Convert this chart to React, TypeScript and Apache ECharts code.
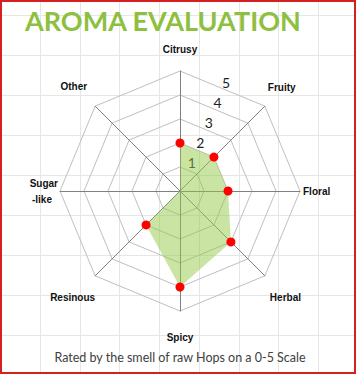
import React, { useEffect, useRef } from 'react';
import * as echarts from 'echarts';

// ---- data ----
const categories = ['Citrusy', 'Fruity', 'Floral', 'Herbal', 'Spicy', 'Resinous', 'Sugar-like', 'Other'];
const scores = [2, 2, 2, 3, 4, 2, 0, 0];
const scaleTicks = [1, 2, 3, 4, 5];
const scaleMax = 5;
const titleText = 'AROMA EVALUATION';
const subtitleText = 'Rated by the smell of raw Hops on a 0-5 Scale';

// ---- layout / style ----
const W = 356;
const H = 374;
const CX = 180;
const CY = 191;
const R = 120;
const FILL = 'rgba(146,200,70,0.7)';

const nameFont = {
  fontFamily: '"Liberation Sans", Arial, sans-serif',
  fontSize: 10,
  fontWeight: 'bold' as const,
  color: '#111111',
  lineHeight: 12,
};

const richNames: Record<string, string> = {
  Citrusy: '{cit|Citrusy}',
  Fruity: '{fru|Fruity}',
  Floral: '{flo|Floral}',
  Herbal: '{her|Herbal}',
  Spicy: '{spi|Spicy}',
  Resinous: '{res|Resinous}',
  'Sugar-like': '{sug|Sugar}\n{sug2|-like}',
  Other: '{oth|Other}',
};

export default function App() {
  const ref = useRef<HTMLDivElement>(null);

  useEffect(() => {
    if (!ref.current) return;
    const chart = echarts.init(ref.current, undefined, { renderer: 'svg' });

    // radar indicators go counter-clockwise; reorder so the picture reads clockwise
    const radarCats = [categories[0], ...categories.slice(1).reverse()];
    const radarVals = [scores[0], ...scores.slice(1).reverse()];

    const gridLines: any[] = [];
    for (let k = 0; k < 8; k++) {
      const x = Math.round(40 + k * 39.7) + 0.5;
      gridLines.push({
        type: 'line', z: -10, silent: true,
        shape: { x1: x, y1: 0, x2: x, y2: H },
        style: { stroke: '#e6e6e6', lineWidth: 1 },
      });
    }
    for (let k = 0; k < 9; k++) {
      const y = 15 + k * 40 + 0.5;
      gridLines.push({
        type: 'line', z: -10, silent: true,
        shape: { x1: 0, y1: y, x2: W, y2: y },
        style: { stroke: '#e6e6e6', lineWidth: 1 },
      });
    }

    chart.setOption({
      animation: false,
      backgroundColor: '#ffffff',
      graphic: [
        ...gridLines,
        {
          type: 'text', x: 25, y: 20, z: 10,
          style: {
            text: titleText,
            fontFamily: 'Lato, sans-serif',
            fontWeight: 'bold',
            fontSize: 27,
            fill: '#8dc03f',
            verticalAlign: 'middle',
          },
        },
        {
          type: 'text', x: 180, y: 357, z: 10,
          style: {
            text: subtitleText,
            fontFamily: 'Lato, sans-serif',
            fontSize: 12.5,
            fill: '#404040',
            align: 'center',
            verticalAlign: 'middle',
          },
        },
        {
          type: 'rect', z: 20, silent: true,
          shape: { x: 1, y: 1, width: W - 2, height: H - 2 },
          style: { fill: 'none', stroke: '#d42020', lineWidth: 2 },
        },
      ],
      radar: {
        center: [CX, CY],
        radius: R,
        startAngle: 90,
        splitNumber: 5,
        shape: 'polygon',
        axisNameGap: 0,
        indicator: radarCats.map((name) => ({ name, min: 0, max: scaleMax })),
        axisName: {
          formatter: (n: string) => richNames[n] || n,
          ...nameFont,
          rich: {
            cit: { ...nameFont, padding: [0, 0, 32, 0] },
            fru: { ...nameFont, padding: [0, 0, 38, 3] },
            flo: { ...nameFont, padding: [0, 0, 0, 3] },
            her: { ...nameFont, padding: [44, 0, 0, 5] },
            spi: { ...nameFont, padding: [40, 0, 0, 0] },
            res: { ...nameFont, padding: [44, 0, 0, 0] },
            sug: { ...nameFont, lineHeight: 16, padding: [0, 2, 0, 0] },
            sug2: { ...nameFont, lineHeight: 16, padding: [0, 8, 0, 0] },
            oth: { ...nameFont, padding: [0, 8, 40, 0] },
          },
        },
        axisLine: { lineStyle: { color: '#808080', width: 1 } },
        splitLine: { lineStyle: { color: '#bfbfbf', width: 1 } },
        splitArea: { show: false },
        axisTick: { show: false },
        axisLabel: { show: false },
      },
      polar: [
        { center: [CX, CY], radius: 117.6 },
        { center: [CX, CY], radius: R },
      ],
      angleAxis: [
        { polarIndex: 0, type: 'value', min: 0, max: 360, startAngle: 67, show: false },
        {
          polarIndex: 1, type: 'category', data: categories, startAngle: 90,
          clockwise: true, boundaryGap: false, show: false,
        },
      ],
      radiusAxis: [
        {
          polarIndex: 0, type: 'value', min: -0.4, max: scaleMax,
          axisLine: { show: false }, axisTick: { show: false }, splitLine: { show: false },
          axisLabel: {
            show: true, margin: 0, align: 'center', verticalAlign: 'middle',
            fontFamily: 'Lato, sans-serif', fontSize: 14, color: '#1f1f1f',
            showMinLabel: true, showMaxLabel: true,
            formatter: (v: number) => (scaleTicks.includes(v) ? String(v) : ''),
          },
        },
        { polarIndex: 1, type: 'value', min: 0, max: scaleMax, show: false },
      ],
      series: [
        {
          type: 'radar',
          symbol: 'none',
          z: 3,
          data: [
            {
              value: radarVals,
              lineStyle: { width: 0, color: FILL },
              areaStyle: { color: FILL },
            },
          ],
        },
        {
          type: 'scatter',
          coordinateSystem: 'polar',
          polarIndex: 1,
          z: 5,
          symbol: 'circle',
          symbolSize: (v: number[]) => (v[0] > 0 ? 9 : 0),
          itemStyle: { color: '#ff0000', opacity: 1 },
          data: scores.map((s, i) => [s, categories[i]]),
        },
      ],
    });

    return () => chart.dispose();
  }, []);

  return (
    <div
      ref={ref}
      style={{ position: 'fixed', left: 0, top: 0, width: W, height: H }}
    />
  );
}
